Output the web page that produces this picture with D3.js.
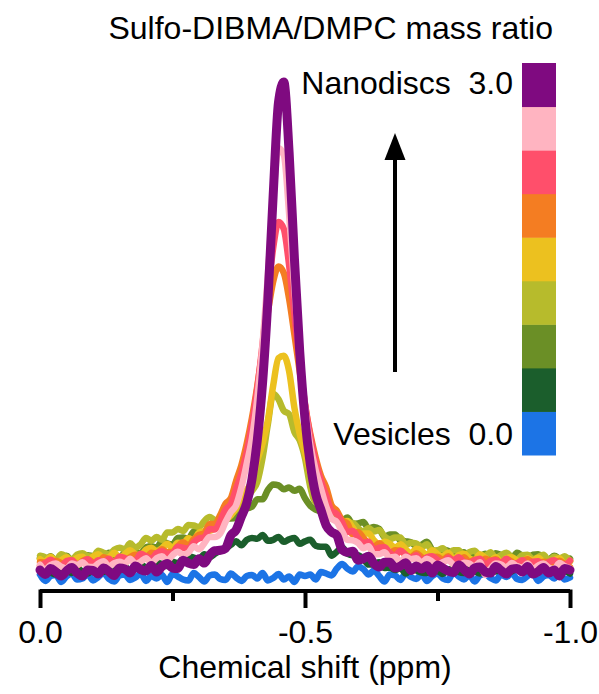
<!DOCTYPE html>
<html><head><meta charset="utf-8">
<script src="https://cdn.jsdelivr.net/npm/d3@7"></script>
<style>
body{margin:0;background:#fff;}
svg{display:block;font-family:"Liberation Sans",Arial,Helvetica,sans-serif;}
</style>
</head><body>
<svg id="chart" width="599" height="694"></svg>
<script>
// Chemical shift grid (ppm)
const ppm = [0,-0.01,-0.02,-0.03,-0.04,-0.05,-0.06,-0.07,-0.08,-0.09,
-0.10,-0.11,-0.12,-0.13,-0.14,-0.15,-0.16,-0.17,-0.18,-0.19,
-0.20,-0.21,-0.22,-0.23,-0.24,-0.25,-0.26,-0.27,-0.28,-0.29,
-0.30,-0.31,-0.32,-0.33,-0.34,-0.35,-0.36,-0.37,-0.38,-0.39,
-0.40,-0.41,-0.42,-0.43,-0.44,-0.45,-0.46,-0.47,-0.48,-0.49,
-0.50,-0.51,-0.52,-0.53,-0.54,-0.55,-0.56,-0.57,-0.58,-0.59,
-0.60,-0.61,-0.62,-0.63,-0.64,-0.65,-0.66,-0.67,-0.68,-0.69,
-0.70,-0.71,-0.72,-0.73,-0.74,-0.75,-0.76,-0.77,-0.78,-0.79,
-0.80,-0.81,-0.82,-0.83,-0.84,-0.85,-0.86,-0.87,-0.88,-0.89,
-0.90,-0.91,-0.92,-0.93,-0.94,-0.95,-0.96,-0.97,-0.98,-0.99,-1.00];

// Intensities (arbitrary units), one per mass ratio, 0.0 (vesicles) -> 3.0 (nanodiscs)
const blue = [0.1,-1.2,-0.2,0,-1.4,-0.3,0.3,-0.9,-0.7,0.2,
-1.1,-0.4,0.4,-0.8,-1.3,-0.1,0.1,-1.0,-0.5,0.3,
-1.2,-0.2,-0.7,0,-1.4,0.2,-0.3,-0.9,-1.1,0.4,
-0.4,-1.3,-0.1,0.1,-0.8,-1.0,0.3,-0.5,-1.2,-0.2,
0,-0.7,0.4,-1.1,-0.6,0.2,-0.9,-0.3,-1.4,0.1,
-0.2,0.1,-0.9,0.6,0.3,-0.1,1.3,2.2,1.3,0.7,
1.7,1.2,0.1,0.9,-0.2,-1.3,0.1,-0.1,-1.0,0.4,
-0.4,-0.8,0.2,-1.2,-0.2,0.3,-0.7,-1.0,0.5,-0.3,
-0.9,0,-1.3,-0.1,0.2,-0.6,-1.1,0.1,-0.4,0.4,
-0.8,-1.0,-0.2,0.3,-1.2,-0.3,0,-0.7,0.5,-0.9,-0.5];

const darkGreen = [0.8,1.2,0.5,0.1,1.0,0.8,0.4,1.3,0.7,0.3,
1.3,1.2,0.6,1.7,1.1,0.9,1.7,0.8,1.6,2.1,
1.5,1.4,2.5,2.2,1.8,2.7,2.4,3.4,3.8,3.5,
3.2,4.2,3.6,4.3,4.9,5.3,6.1,6.8,6.0,7.1,
7.5,7.3,8.1,6.9,7.1,7.7,6.7,7.2,7.5,6.3,
6.8,7.1,5.9,5.7,5.7,3.9,4.7,5.6,4.3,4.0,
4.0,3.3,2.1,2.2,2.6,1.4,1.5,1.0,1.4,0.3,
1.3,0.9,0.5,0.4,1.4,0.9,0.2,1.1,1.2,0.6,
0.4,1.4,0.8,0.3,1.0,1.2,0.7,1.4,0.4,0.7,
1.3,0.5,0.9,0.2,1.2,1.0,1.2,0.5,1.4,0.9,0.3];

const olive = [3.4,2.9,3.8,2.7,3.1,3.9,3.0,3.6,2.7,4.0,
3.8,4.2,3.5,4.5,4.1,3.6,4.6,5.3,4.6,4.4,
5.6,5.8,5.5,6.8,6.4,6.1,7.5,7.6,7.3,8.8,
8.6,8.7,10.0,9.4,10.7,11.6,11.4,11.7,13.5,13.5,
13.8,15.3,15.3,17.2,18.3,18.1,17.3,17.7,17.0,17.4,
15.5,14.0,13.2,12.8,11.3,11.8,11.8,11.0,11.6,10.3,
10.4,10.7,9.4,9.7,9.3,7.7,8.2,8.2,7.0,6.8,
6.6,5.8,6.1,6.7,5.1,4.4,5.1,4.9,4.0,4.2,
4.6,3.6,4.3,3.8,4.3,3.2,4.4,4.0,3.5,3.3,
4.5,3.9,3.3,4.1,4.2,3.4,3.1,3.9,3.3,2.6,3.3];

const yellowGreen = [3.9,3.6,3.1,3.0,4.2,3.7,3.1,4.1,4.4,3.8,
3.7,4.9,4.5,4.1,5.1,5.5,5.2,6.4,5.5,6.2,
7.5,6.9,7.7,7.1,8.6,8.6,9.3,8.9,10.1,10.0,
9.7,10.9,11.7,11.1,11.0,12.2,12.5,13.2,14.8,15.6,
17.0,18.8,23.7,30.5,36.6,35.5,33.2,32.5,28.9,27.2,
23.6,17.8,14.8,15.2,12.9,11.4,11.5,10.0,10.5,10.5,
9.5,8.8,9.5,8.8,9.1,7.8,7.2,7.6,7.6,6.1,
6.5,6.4,5.6,6.2,4.9,5.0,5.4,4.2,5.0,5.0,
3.8,4.6,4.9,3.9,3.9,4.6,3.4,4.0,4.5,3.6,
3.1,4.0,4.1,3.2,3.6,4.1,2.9,3.7,3.3,3.8,2.7];

const yellow = [3.2,2.7,3.7,2.6,3.0,3.6,2.6,3.5,3.7,2.7,
3.7,4.2,3.4,3.6,4.5,3.5,4.2,5.0,4.2,4.0,
5.1,5.5,4.8,5.4,6.3,5.4,6.5,6.4,7.4,7.0,
8.6,8.8,8.9,9.6,11.0,11.2,12.0,13.6,16.0,17.1,
19.2,23.2,26.6,31.3,38.3,43.8,44.3,41.2,33.8,28.5,
24.7,20.5,18.4,15.5,15.1,13.4,12.5,10.8,10.9,9.6,
8.2,8.4,8.4,7.0,6.2,6.7,6.3,5.5,6.2,5.2,
4.4,5.3,4.9,4.0,5.0,4.2,3.8,4.5,3.3,4.0,
4.3,3.4,3.0,4.2,3.5,2.9,3.6,2.5,3.4,3.6,
2.9,2.4,3.4,2.9,3.5,2.6,2.4,3.0,3.4,2.2,2.9];

const orange = [2.6,2.5,1.8,2.9,2.4,2.1,3.0,1.9,2.8,3.2,
2.5,2.3,3.6,3.1,2.7,3.5,2.6,3.6,4.1,3.5,
3.3,4.5,4.3,5.2,4.6,4.7,5.8,6.6,5.9,7.2,
8.1,8.4,10.3,10.3,12.1,14.4,15.5,19.0,22.2,26.5,
31.8,38.2,45.6,53.1,59.3,62.3,61.0,55.8,48.6,41.1,
34.3,28.5,23.8,20.1,17.7,14.1,13.0,11.1,10.4,8.2,
8.7,7.5,6.4,5.7,6.4,5.4,4.4,5.0,4.9,4.0,
3.6,4.4,3.6,2.9,3.6,3.7,3.0,3.8,2.6,2.9,
3.6,2.6,3.1,2.1,3.3,2.9,3.2,2.3,3.2,2.7,
1.9,2.7,3.2,2.3,1.8,2.7,2.6,2.0,2.9,2.2,1.6];

const red = [1.8,2.4,3.1,2.2,1.8,2.8,3.0,2.1,2.6,3.2,
2.1,3.0,2.6,3.3,2.3,3.7,3.4,3.0,2.9,4.3,
3.8,3.3,4.4,4.8,4.3,4.4,5.7,5.5,5.3,6.6,
7.4,7.6,9.3,9.2,10.9,13.2,14.3,17.4,20.5,24.8,
30.5,37.7,46.7,56.8,66.1,71.3,69.9,62.6,52.7,42.9,
34.6,28.0,23.0,19.1,16.0,13.0,12.3,10.6,8.7,8.9,
7.5,6.5,6.7,5.1,5.5,5.6,4.5,3.9,4.9,4.1,
3.4,4.0,2.8,3.6,3.8,3.0,2.5,3.5,3.0,3.6,
2.6,2.4,3.0,3.3,2.1,2.8,3.0,2.4,3.3,2.2,
2.4,3.0,1.9,2.7,2.8,1.7,2.6,3.0,2.1,2.1,2.9];

const pink = [2.1,1.1,2.0,2.3,1.7,1.3,2.3,2.0,2.6,1.7,
1.6,2.3,2.8,1.7,2.4,2.7,2.3,3.3,2.3,2.7,
3.4,2.4,3.4,3.8,2.9,4.0,4.7,4.1,4.5,5.8,
5.2,6.4,7.7,7.7,8.4,10.7,12.7,14.1,17.7,22.5,
27.7,35.7,46.7,60.7,75.9,86.2,84.9,73.0,57.7,44.2,
33.9,26.3,21.2,17.5,13.8,11.4,10.7,8.8,7.1,7.0,
6.5,5.4,5.8,4.2,4.2,4.6,3.5,3.7,2.6,3.7,
3.2,3.4,2.5,3.3,2.7,1.9,2.6,3.0,2.1,1.7,
2.5,2.3,1.7,2.6,0.0,1.3,2.3,2.1,1.4,2.4,
1.8,1.5,2.3,1.2,1.9,2.3,1.5,1.2,2.4,1.8,1.3];

const purple = [1.0,0.1,1.3,0.6,-0.2,0.8,1.5,0.4,-0.2,1.0,
0.9,0.2,1.4,0.7,-0.1,1.4,1.2,0.4,1.8,1.1,
0.8,1.9,0.6,1.7,2.3,1.4,1.3,3.0,2.4,2.1,
3.3,2.4,4.0,4.9,5.0,5.4,8.0,9.1,11.8,14.5,
19.4,27.2,38.9,55.6,76.8,95.5,99.6,85.4,64.0,45.2,
31.5,22.4,16.4,13.2,10.0,8.7,8.0,5.1,4.6,4.8,
3.0,3.3,3.8,2.3,1.6,2.6,2.6,1.4,1.8,2.5,
0.9,1.8,1.2,1.9,0.4,2.0,1.4,0.8,0.5,2.0,
1.1,0.2,1.4,1.6,0.6,0.4,1.7,0.9,0.2,1.2,
1.3,0.6,1.7,0.2,0.7,1.5,0.4,1.0,-0.2,1.3,1.0];

// Series order: lowest ratio first (drawn first), highest ratio last (on top)
const seriesValues = [blue, darkGreen, olive, yellowGreen, yellow, orange, red, pink, purple];
const seriesColors = ["#1c74e6", "#1b5e2c", "#6b8f26", "#b7bb2c", "#ecc11f", "#f47d22", "#ff4f6b", "#ffb4c1", "#7f0a80"];
const seriesWidths = [6.5, 6.5, 6.5, 6.5, 6.5, 6.5, 6.5, 6.5, 9];

// Axis ticks
const xTicks = [0, -0.25, -0.5, -0.75, -1.0];
const xTickLabels = ["0.0", "", "-0.5", "", "-1.0"];
const xMajor = [true, false, true, false, true];

// Texts
const chartTitle = "Sulfo-DIBMA/DMPC mass ratio";
const xTitle = "Chemical shift (ppm)";
const topLabel = "Nanodiscs  3.0";
const bottomLabel = "Vesicles  0.0";

const svg = d3.select("#chart");
const FONT = 32;

const x = d3.scaleLinear().domain([0, -1]).range([40, 570]);
const y = d3.scaleLinear().domain([0, 100]).range([575, 80]);

// spectra
const line = d3.line()
  .x((d, i) => x(ppm[i]))
  .y(d => y(d))
  .curve(d3.curveMonotoneX);

svg.append("g").selectAll("path")
  .data(seriesValues)
  .join("path")
  .attr("d", d => line(d))
  .attr("fill", "none")
  .attr("stroke", (d, i) => seriesColors[i])
  .attr("stroke-width", (d, i) => seriesWidths[i])
  .attr("stroke-linejoin", "round")
  .attr("stroke-linecap", "round");

// x axis
const axisY = 591;
const xAxis = d3.axisBottom(x)
  .tickValues(xTicks)
  .tickFormat((d, i) => xTickLabels[i])
  .tickSize(17)
  .tickSizeOuter(0);

const gx = svg.append("g").attr("transform", `translate(0,${axisY})`).call(xAxis);
gx.select(".domain").attr("stroke", "#000").attr("stroke-width", 4)
  .attr("d", `M${x(0)},0H${x(-1)}`);
gx.selectAll(".tick line")
  .attr("stroke", "#000").attr("stroke-width", 4)
  .attr("y1", -1.5)
  .attr("y2", (d, i) => xMajor[i] ? 17 : 10);
gx.selectAll(".tick text")
  .attr("y", 52).attr("dy", null)
  .attr("fill", "#000")
  .style("font-size", FONT + "px")
  .style("font-family", "'Liberation Sans', Arial, sans-serif");

svg.append("text")
  .attr("x", (x(0) + x(-1)) / 2).attr("y", 678)
  .attr("text-anchor", "middle")
  .style("font-size", FONT + "px")
  .text(xTitle);

// title
svg.append("text")
  .attr("x", 553).attr("y", 39)
  .attr("text-anchor", "end")
  .style("font-size", FONT + "px")
  .text(chartTitle);

// colour bar (index 0 = 0.0 at the bottom; reversed band range returns top edges)
const bar = d3.scaleBand().domain(d3.range(seriesColors.length)).range([455, 63]).padding(0);
svg.append("g").selectAll("rect")
  .data(seriesColors)
  .join("rect")
  .attr("x", 522).attr("width", 34)
  .attr("y", (d, i) => bar(i))
  .attr("height", bar.bandwidth() + 0.5)
  .attr("fill", d => d);

svg.append("text")
  .attr("x", 513).attr("y", 94)
  .attr("text-anchor", "end")
  .style("font-size", FONT + "px")
  .style("white-space", "pre")
  .text(topLabel);

svg.append("text")
  .attr("x", 513).attr("y", 445)
  .attr("text-anchor", "end")
  .style("font-size", FONT + "px")
  .style("white-space", "pre")
  .text(bottomLabel);

// arrow
svg.append("line")
  .attr("x1", 395).attr("x2", 395)
  .attr("y1", 372).attr("y2", 156)
  .attr("stroke", "#000").attr("stroke-width", 4);
svg.append("path")
  .attr("d", "M395,133L384.5,160L405.5,160Z")
  .attr("fill", "#000");
</script>
</body></html>
